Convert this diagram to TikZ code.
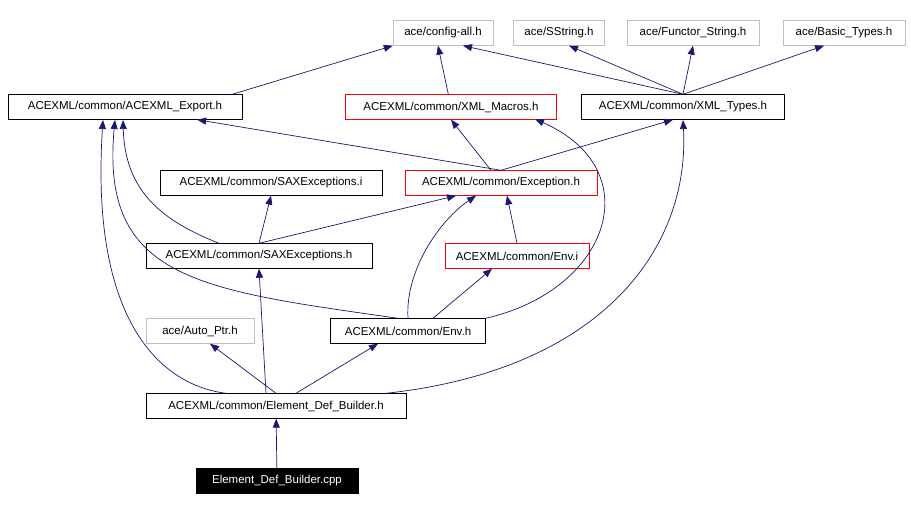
\documentclass[tikz,border=0pt]{standalone}
\usepackage{fontspec}
\setmainfont{Liberation Sans}
\usetikzlibrary{arrows.meta}
\definecolor{edgeblue}{HTML}{191970}
\definecolor{boxgray}{HTML}{BFBFBF}
\tikzset{file/.style={draw=black, thin, inner sep=0pt, minimum height=25pt,
    font=\fontsize{11.5}{14}\selectfont},
  sys/.style={file, draw=boxgray},
  bad/.style={file, draw=red},
  dep/.style={-{Triangle[length=9pt,width=7pt]}, edgeblue, line width=0.7pt}}
\begin{document}
\begin{tikzpicture}[x=1pt, y=-1pt]
  \useasboundingbox (0,0) rectangle (911,510);
  % system headers
  \begin{scope}
    \node [sys, minimum width=100pt] (cfg) at (443,33) {ace/config-all.h};
    \node [sys, minimum width=91pt] (sstr) at (559,33) {ace/SString.h};
    \node [sys, minimum width=132pt] (fstr) at (693,33) {ace/Functor\_String.h};
    \node [sys, minimum width=122pt] (btyp) at (844,33) {ace/Basic\_Types.h};
    \node [sys, minimum width=108pt] (aptr) at (200,331) {ace/Auto\_Ptr.h};
  \end{scope}
  % ACEXML headers
  \node [file, minimum width=234pt] (exph) at (125,107) {ACEXML/common/ACEXML\_Export.h};
  \node [bad, minimum width=211pt] (mach) at (451,107) {ACEXML/common/XML\_Macros.h};
  \node [file, minimum width=203pt] (typh) at (683,107) {ACEXML/common/XML\_Types.h};
  \node [file, minimum width=222pt] (saxi) at (271,183) {ACEXML/common/SAXExceptions.i};
  \node [bad, minimum width=192pt] (exch) at (501,183) {ACEXML/common/Exception.h};
  \node [file, minimum width=226pt] (saxh) at (259,256) {ACEXML/common/SAXExceptions.h};
  \node [bad, minimum width=144pt] (envi) at (517,256) {ACEXML/common/Env.i};
  \node [file, minimum width=155pt] (envh) at (408,331) {ACEXML/common/Env.h};
  \node [file, minimum width=260pt] (edbh) at (276,406) {ACEXML/common/Element\_Def\_Builder.h};
  \node [file, fill=black, text=white, minimum width=162pt] (edbc) at (277,481) {Element\_Def\_Builder.cpp};
  \coordinate (e1) at ([xshift=-10pt]exph.north east);
  % includes
  \begin{scope}[every path/.style={dep}]
    \draw (e1) -- (cfg.south west);
    \draw (mach) -- ([xshift=-5pt]cfg.south);
    \draw (typh.north) -- ([xshift=20pt]cfg.south);
    \draw (typh.north) -- ([xshift=10pt]sstr.south);
    \draw (typh.north) -- (fstr.south);
    \draw (typh.north) -- ([xshift=-20pt]btyp.south);
    \draw (exch.north) -- ([xshift=-45pt]exph.south east);
    \draw ([xshift=-10pt]exch.north) -- (mach.south);
    \draw (exch.north) -- ([xshift=-10pt]typh.south);
    \draw (saxh.north) -- (saxi.south);
    \draw (saxh.north) -- ([xshift=-45pt]exch.south);
    \draw (saxh.north) ++(-40,0) .. controls (160,220) and (125,190) .. (123,120);
    \draw (envi.north) -- ([xshift=6pt]exch.south);
    \draw (envh.north) ++(25,0) -- ([xshift=-25pt]envi.south);
    \draw (envh.north) .. controls (405,270) and (440,220) .. ([xshift=-25pt]exch.south);
    \draw (envh.north east) .. controls (610,290) and (650,170) .. (535,119);
    \draw (envh.north) ++(-10,0) .. controls (200,290) and (100,280) .. (115,120);
    \draw (edbh.north) -- ([xshift=10pt]aptr.south);
    \draw (edbh.north) ++(20,0) -- ([xshift=-30pt]envh.south);
    \draw (edbh.north) ++(-10,0) -- (saxh.south);
    \draw (edbh.north) ++(-50,0) .. controls (160,385) and (90,320) .. (103,120);
    \draw (edbh.north) ++(110,0) .. controls (600,370) and (690,250) .. (683,120);
    \draw (edbc) -- (edbh);
  \end{scope}
\end{tikzpicture}
\end{document}
